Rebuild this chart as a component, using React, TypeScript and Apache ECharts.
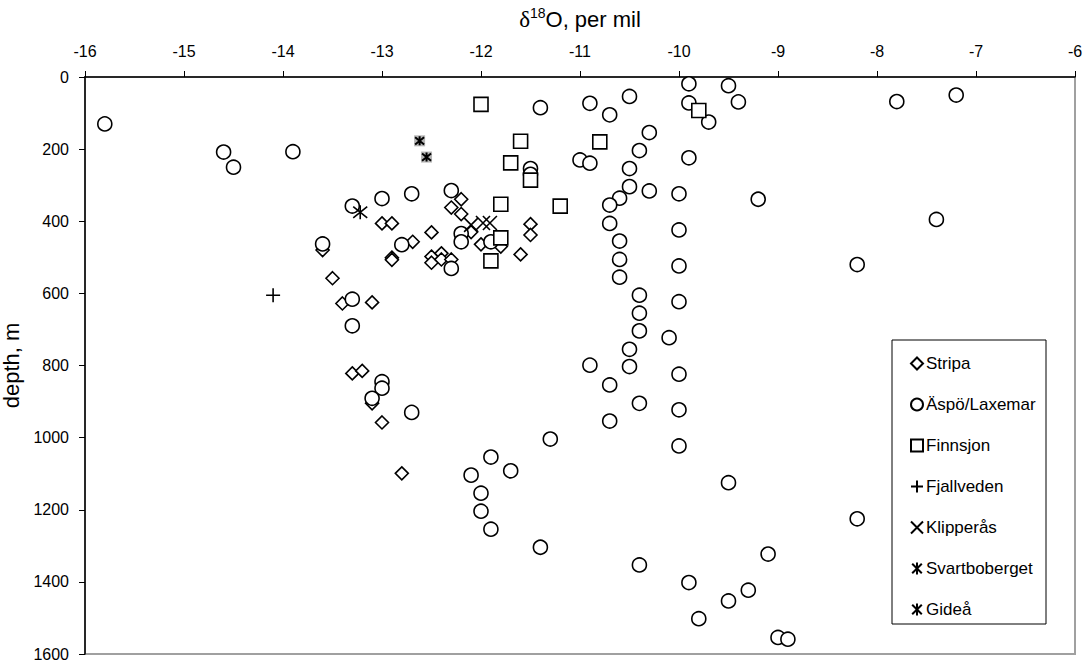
import React, { useEffect, useRef } from "react";
import * as echarts from "echarts";

// [delta18O (per mil), depth (m)]
const stripa: number[][] = [
  [-12.2, 339], [-12.3, 362], [-12.2, 380], [-13.0, 406], [-12.9, 406], [-13.6, 480],
  [-12.69, 457], [-12.5, 431], [-12.1, 430], [-12.9, 501], [-12.9, 507], [-12.5, 498],
  [-12.5, 515], [-12.4, 489], [-12.4, 506], [-12.3, 506], [-13.5, 558], [-13.4, 628],
  [-13.1, 625], [-11.5, 408], [-11.5, 438], [-12.0, 464], [-11.8, 470], [-11.6, 492],
  [-13.3, 822], [-13.2, 815], [-13.1, 905], [-13.0, 958], [-12.8, 1099],
];

const aspoLaxemar: number[][] = [
  [-15.8, 130], [-14.6, 208], [-14.5, 250], [-13.9, 207], [-13.0, 337], [-12.7, 324],
  [-13.3, 358], [-13.6, 463], [-12.8, 465], [-12.3, 315], [-12.2, 434], [-12.2, 457],
  [-12.3, 531], [-11.9, 457], [-13.3, 616], [-13.3, 690], [-13.0, 845], [-13.0, 863],
  [-13.1, 891], [-12.7, 930], [-11.3, 1004], [-11.9, 1054], [-11.7, 1092], [-12.1, 1104],
  [-12.0, 1154], [-12.0, 1204], [-11.9, 1254], [-11.4, 1304], [-10.4, 1353], [-9.9, 1402],
  [-9.1, 1323], [-9.3, 1423], [-9.5, 1453], [-9.8, 1502], [-9.0, 1554], [-8.9, 1559],
  [-9.9, 19], [-9.5, 24], [-9.4, 69], [-9.9, 72], [-9.7, 125], [-11.4, 85], [-10.9, 73],
  [-10.5, 54], [-10.7, 105], [-10.3, 154], [-10.4, 204], [-9.9, 224], [-11.0, 230],
  [-10.9, 239], [-10.5, 254], [-11.5, 254], [-11.5, 270], [-10.5, 304], [-10.3, 316],
  [-10.0, 324], [-9.2, 339], [-10.6, 336], [-10.7, 355], [-10.7, 406], [-10.0, 424],
  [-10.6, 455], [-10.6, 506], [-10.0, 524], [-10.6, 555], [-10.4, 605], [-10.0, 623],
  [-10.4, 655], [-10.4, 704], [-10.1, 723], [-10.5, 755], [-10.5, 803], [-10.9, 799],
  [-10.0, 824], [-10.7, 854], [-10.4, 905], [-10.0, 923], [-10.7, 954], [-10.0, 1023],
  [-9.5, 1125], [-7.8, 68], [-7.2, 50], [-7.4, 395], [-8.2, 520], [-8.2, 1225],
];

const finnsjon: number[][] = [
  [-12.0, 76], [-9.8, 93], [-11.6, 178], [-10.8, 180], [-11.7, 238], [-11.5, 286],
  [-11.2, 358], [-11.8, 353], [-11.8, 446], [-11.9, 510],
];

const fjallveden: number[][] = [[-14.1, 605]];
const klipperas: number[][] = [[-12.1, 410], [-11.98, 405], [-11.91, 405]];
const svartboberget: number[][] = [[-13.22, 375]];
const gidea: number[][] = [[-12.62, 177], [-12.55, 222]];

const legendNames = ["Stripa", "Äspö/Laxemar", "Finnsjon", "Fjallveden", "Klipperås", "Svartboberget", "Gideå"];

const FONT = "Liberation Sans, Arial, sans-serif";

export default function App() {
  const ref = useRef<HTMLDivElement>(null);
  useEffect(() => {
    const chart = echarts.init(ref.current!, null, { renderer: "svg" });
    const hollow = (name: string, data: number[][], symbol: string, size: number) => ({
      type: "scatter",
      name,
      data,
      symbol,
      symbolSize: size,
      itemStyle: { color: "#ffffff", borderColor: "#000000", borderWidth: 1.6, opacity: 1 },
      emphasis: { disabled: true },
    });
    const lines = (name: string, data: number[][], symbol: string, size: number, width: number) => ({
      type: "scatter",
      name,
      data,
      symbol,
      symbolSize: size,
      itemStyle: { color: "rgba(0,0,0,0)", borderColor: "#000000", borderWidth: width, opacity: 1 },
      emphasis: { disabled: true },
    });
    const plus = "path://M5 0 L5 10 M0 5 L10 5";
    const cross = "path://M0 0 L10 10 M10 0 L0 10";
    const star = "path://M1 1 L9 9 M9 1 L1 9 M5 0 L5 10";
    chart.setOption({
      animation: false,
      textStyle: { fontFamily: FONT },
      grid: {
        left: 85,
        top: 77,
        right: 14,
        bottom: 10,
        containLabel: false,
        outerBoundsMode: "none",
        show: true,
        borderColor: "#a0a0a0",
        borderWidth: 2,
        backgroundColor: "#ffffff",
      },
      xAxis: {
        type: "value",
        position: "top",
        min: -16,
        max: -6,
        interval: 1,
        name: "{d|δ}{s|18}{n|O, per mil}",
        nameLocation: "middle",
        nameGap: 45,
        nameTextStyle: {
          rich: {
            d: { fontFamily: "Liberation Serif, serif", fontSize: 23, color: "#000", lineHeight: 26 },
            s: { fontFamily: FONT, fontSize: 14, color: "#000", verticalAlign: "top", lineHeight: 26 },
            n: { fontFamily: FONT, fontSize: 22, color: "#000", lineHeight: 26 },
          },
        },
        axisLine: { show: true, lineStyle: { color: "#000", width: 1.5 } },
        axisTick: { show: true, length: 6, lineStyle: { color: "#000", width: 1 } },
        axisLabel: { color: "#000", fontSize: 16, fontFamily: FONT, margin: 18 },
        splitLine: { show: false },
      },
      yAxis: {
        type: "value",
        inverse: true,
        min: 0,
        max: 1600,
        interval: 200,
        name: "depth, m",
        nameLocation: "middle",
        nameGap: 43,
        nameRotate: 90,
        nameTextStyle: { color: "#000", fontSize: 22, fontFamily: FONT },
        axisLine: { show: true, lineStyle: { color: "#000", width: 1.5 } },
        axisTick: { show: true, length: 6, lineStyle: { color: "#000", width: 1 } },
        axisLabel: {
          color: "#000",
          fontSize: 16,
          fontFamily: FONT,
          margin: 16,
          formatter: (v: number) => String(v),
        },
        splitLine: { show: false },
      },
      legend: {
        data: legendNames,
        orient: "vertical",
        left: 905,
        top: 350,
        itemWidth: 12,
        itemHeight: 12,
        itemGap: 24,
        selectedMode: false,
        textStyle: { color: "#000", fontSize: 17, fontFamily: FONT, lineHeight: 16, padding: [0, 0, 0, -2] },
      },
      graphic: [
        {
          type: "rect",
          shape: { x: 892, y: 340, width: 154, height: 284 },
          style: { fill: "#ffffff", stroke: "#000", lineWidth: 1 },
          z: 1,
          silent: true,
        },
      ],
      series: [
        hollow("Stripa", stripa, "diamond", 13),
        hollow("Äspö/Laxemar", aspoLaxemar, "circle", 14),
        hollow("Finnsjon", finnsjon, "rect", 14),
        lines("Fjallveden", fjallveden, plus, 14, 1.6),
        lines("Klipperås", klipperas, cross, 14, 1.6),
        lines("Svartboberget", svartboberget, star, 14, 1.6),
        {
          type: "scatter",
          name: "Gideå background",
          data: gidea,
          symbol: "rect",
          symbolSize: 11,
          itemStyle: { color: "#b4b4b4", opacity: 1 },
          emphasis: { disabled: true },
        },
        lines("Gideå", gidea, star, 9, 2),
      ],
    });
    return () => chart.dispose();
  }, []);
  return (
    <div
      ref={ref}
      style={{ position: "fixed", left: 0, top: 0, width: 1089, height: 664, background: "#ffffff" }}
    />
  );
}
